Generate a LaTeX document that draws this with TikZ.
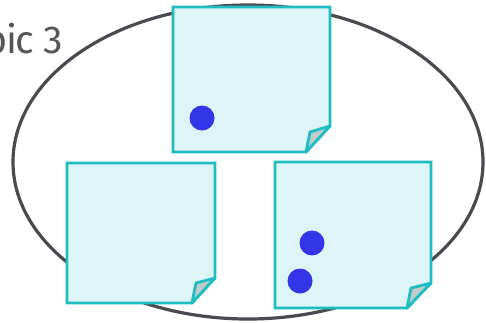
\documentclass[tikz,border=0pt]{standalone}
\usepackage{fontspec}
\setmainfont{Fira Sans}
\begin{document}
\begin{tikzpicture}[x=1pt,y=-1pt,
  notebox/.style={draw=notestroke,fill=notefill,line width=2.8pt,line join=miter},
  flap/.style={draw=notestroke,fill=flapfill,line width=2.8pt,line join=round},
  dot/.style={circle,fill=dotblue,inner sep=0pt,minimum size=25pt},
  ring/.style={draw=ringgray,line width=3.2pt}]
\definecolor{notestroke}{HTML}{1FBDC2}
\definecolor{notefill}{HTML}{DDF5F6}
\definecolor{flapfill}{HTML}{C2CACA}
\definecolor{dotblue}{HTML}{3535E8}
\definecolor{ringgray}{HTML}{4A4A50}
\definecolor{textgray}{HTML}{555555}
\useasboundingbox (0,0) rectangle (486,322);
\clip (0,0) rectangle (486,322);
\node[anchor=base east,text=textgray,font=\fontsize{39}{43}\selectfont\addfontfeature{LetterSpace=-4},inner sep=0pt] (title) at (63,53) {Topic 3};
\draw[ring] (248,162) ellipse [x radius=235, y radius=157];
% top note
\draw[notebox] (173,7) -- (330,7) -- (330,126) -- (306,152) -- (173,152) -- cycle;
\draw[flap] (306,152) -- (310,132) -- (330,126) -- cycle;
% bottom-left note
\draw[notebox] (67,163) -- (215,163) -- (215,278) -- (192,303) -- (67,303) -- cycle;
\draw[flap] (192,303) -- (196,283) -- (215,278) -- cycle;
% bottom-right note
\draw[notebox] (275,162) -- (431,162) -- (431,283) -- (407,308) -- (275,308) -- cycle;
\draw[flap] (407,308) -- (411,288) -- (431,283) -- cycle;
\node[dot] (d1) at (202,118) {};
\node[dot] (d2) at (312,243) {};
\node[dot] (d3) at (300,281) {};
\end{tikzpicture}
\end{document}
